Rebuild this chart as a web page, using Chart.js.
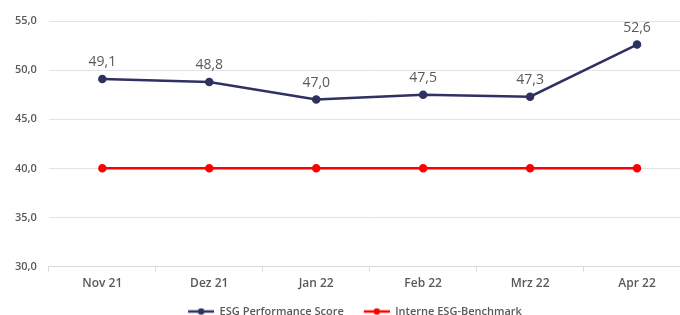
<!DOCTYPE html>
<html>
<head>
<meta charset="utf-8">
<script src="https://cdn.jsdelivr.net/npm/chart.js@4"></script>
<style>
  html, body { margin: 0; padding: 0; background: #fff; overflow: hidden; }
  #wrap { width: 680px; height: 315px; overflow: hidden; }
</style>
</head>
<body>
<div id="wrap"><canvas id="line_chart" width="697" height="327"></canvas></div>
<script>
const months = ["Nov 21", "Dez 21", "Jan 22", "Feb 22", "Mrz 22", "Apr 22"];
const esgScore = [49.1, 48.8, 47.0, 47.5, 47.3, 52.6];
const benchmark = [40, 40, 40, 40, 40, 40];
const yTicks = [30, 35, 40, 45, 50, 55];

const navy = "#2e3161";
const red = "#ff0000";
const grey = "#595959";

// legend marker: blank gap on the left, then a short line with a dot
function marker(color) {
  const c = document.createElement("canvas");
  c.width = 36;
  c.height = 8;
  const g = c.getContext("2d");
  g.strokeStyle = color;
  g.lineWidth = 2.5;
  g.beginPath();
  g.moveTo(10, 4);
  g.lineTo(36, 4);
  g.stroke();
  g.fillStyle = color;
  g.beginPath();
  g.arc(23, 4, 3.2, 0, Math.PI * 2);
  g.fill();
  return c;
}

const fmt = (v) => v.toFixed(1).replace(".", ",");

const valueLabels = {
  id: "valueLabels",
  afterDatasetsDraw(chart) {
    const ctx = chart.ctx;
    const meta = chart.getDatasetMeta(0);
    ctx.save();
    ctx.font = "14px 'Open Sans'";
    ctx.fillStyle = grey;
    ctx.textAlign = "center";
    ctx.textBaseline = "middle";
    meta.data.forEach((pt, i) => {
      ctx.fillText(fmt(esgScore[i]), pt.x, pt.y - 17);
    });
    ctx.restore();
  },
};

new Chart(document.getElementById("line_chart"), {
  type: "line",
  data: {
    labels: months,
    datasets: [
      {
        label: "ESG Performance Score",
        data: esgScore,
        borderColor: navy,
        backgroundColor: navy,
        borderWidth: 2.5,
        pointRadius: 3,
        tension: 0,
      },
      {
        label: "Interne ESG-Benchmark",
        data: benchmark,
        borderColor: red,
        backgroundColor: red,
        borderWidth: 2.5,
        pointRadius: 3,
        tension: 0,
      },
    ],
  },
  options: {
    responsive: false,
    animation: false,
    layout: { padding: { top: 21, right: 0, left: 3, bottom: 0 } },
    plugins: {
      tooltip: { enabled: false },
      legend: {
        position: "bottom",
        labels: {
          usePointStyle: true,
          pointStyleWidth: 36,
          color: grey,
          font: { family: "'Open Sans'", size: 11, weight: "600" },
          padding: 10,
          generateLabels(chart) {
            return chart.data.datasets.map((ds, i) => ({
              text: ds.label,
              fontColor: grey,
              pointStyle: marker(ds.borderColor),
              datasetIndex: i,
              lineWidth: 0,
            }));
          },
        },
      },
    },
    scales: {
      x: {
        offset: true,
        grid: { display: true, drawOnChartArea: false, offset: true, tickLength: 5, color: "#d9d9d9" },
        border: { color: "#d9d9d9" },
        ticks: {
          color: grey,
          font: { family: "'Open Sans'", size: 12, weight: "600" },
          padding: 5,
        },
      },
      y: {
        min: 30,
        max: 55,
        afterBuildTicks(axis) {
          axis.ticks = yTicks.map((v) => ({ value: v }));
        },
        grid: { color: "#e3e3e3", drawTicks: false },
        border: { display: false },
        ticks: {
          color: grey,
          font: { family: "'Open Sans'", size: 11, weight: "600" },
          padding: 12,
          callback: (v) => fmt(v),
        },
      },
    },
  },
  plugins: [valueLabels],
});
</script>
</body>
</html>
